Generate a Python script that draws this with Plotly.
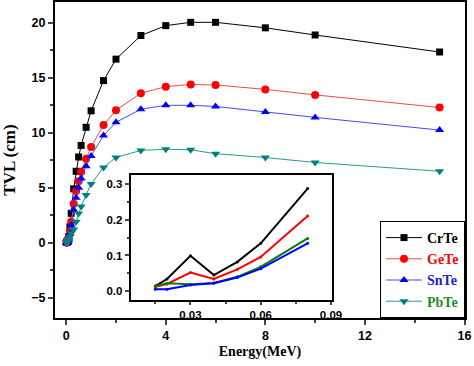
import plotly.graph_objects as go

energy = [0.015, 0.02, 0.03, 0.04, 0.05, 0.06, 0.08, 0.1, 0.15, 0.2, 0.3, 0.4, 0.5,
          0.6, 0.8, 1, 1.5, 2, 3, 4, 5, 6, 8, 10, 15]
crte = [0.014, 0.034, 0.099, 0.045, 0.082, 0.134, 0.288, 0.55, 1.45, 2.67, 4.9, 6.5, 7.8,
        8.85, 10.5, 12.0, 14.75, 16.7, 18.85, 19.75, 20.05, 20.05, 19.55, 18.9, 17.35]
gete = [0.012, 0.020, 0.052, 0.034, 0.061, 0.096, 0.211, 0.40, 1.05, 1.9, 3.55, 4.7, 5.6,
        6.45, 7.65, 8.7, 10.7, 12.05, 13.6, 14.2, 14.4, 14.35, 13.95, 13.45, 12.3]
snte = [0.005, 0.005, 0.017, 0.022, 0.038, 0.063, 0.134, 0.30, 0.85, 1.6, 3.0, 4.1, 5.0,
        5.85, 6.95, 7.9, 9.75, 10.95, 12.15, 12.5, 12.5, 12.4, 11.9, 11.4, 10.25]
pbte = [0.014, 0.022, 0.019, 0.023, 0.040, 0.068, 0.148, 0.25, 0.55, 0.85, 1.2, 1.9, 2.65,
        3.3, 4.35, 5.35, 6.85, 7.75, 8.4, 8.5, 8.45, 8.1, 7.75, 7.3, 6.5]
n_inset = 7

series = [
    ("CrTe", crte, "#000000", "#000000", "square", "#000000", "#000000"),
    ("GeTe", gete, "#ff0000", "#f04848", "circle", "#ff0000", "#ff0000"),
    ("SnTe", snte, "#0000ff", "#4848f0", "triangle-up", "#0000ff", "#1c1cd0"),
    ("PbTe", pbte, "#008080", "#2a9898", "triangle-down", "#008000", "#1e8c1e"),
]

fig = go.Figure()
for name, vals, mcol, lcol, sym, icol, tcol in series:
    fig.add_trace(go.Scatter(
        x=energy, y=vals, mode="lines+markers",
        name=f'<span style="color:{tcol}">{name}</span>',
        line=dict(color=lcol, width=1),
        marker=dict(symbol=sym, color=mcol, size=8 if sym != "square" else 7),
        xaxis="x", yaxis="y"))
# inset order: CrTe, GeTe, PbTe, SnTe (blue on top)
for name, vals, mcol, lcol, sym, icol, tcol in [series[0], series[1], series[3], series[2]]:
    fig.add_trace(go.Scatter(
        x=energy[:n_inset], y=vals[:n_inset], mode="lines+markers",
        line=dict(color=icol, width=2), marker=dict(color=icol, size=3),
        showlegend=False, xaxis="x2", yaxis="y2"))

tickfont = dict(family="Liberation Sans", size=12.5, color="black", weight="bold")
insetfont = dict(family="Liberation Sans", size=11.5, color="black", weight="bold")
xr = [-0.45, 16.02]
yr = [-6.85, 21.9]
ixr = [0.0045, 0.0903]
iyr = [-0.025, 0.326]

fig.update_layout(
    width=474, height=366,
    margin=dict(l=55, r=9, t=2, b=48, autoexpand=False),
    paper_bgcolor="white", plot_bgcolor="white",
    showlegend=True,
    legend=dict(x=1, y=0, xanchor="right", yanchor="bottom",
                bordercolor="black", borderwidth=1, bgcolor="white",
                font=dict(family="Liberation Serif", size=14, color="black", weight="bold"),
                tracegroupgap=0, itemwidth=36),
    xaxis=dict(range=xr, automargin=False, showgrid=False, zeroline=False, showline=True, linewidth=2,
               linecolor="black", mirror=True, ticks="outside", ticklen=5, tickwidth=1.5,
               tick0=0, dtick=4, tickfont=tickfont,
               minor=dict(dtick=2, ticks="outside", ticklen=3, tickwidth=1.5),
               title=dict(text="Energy(MeV)", standoff=4,
                          font=dict(family="Liberation Serif", size=14, color="black", weight="bold"))),
    yaxis=dict(range=yr, automargin=False, showgrid=False, zeroline=False, showline=True, linewidth=2,
               linecolor="black", mirror=True, ticks="outside", ticklen=5, tickwidth=1.5,
               tick0=0, dtick=5, tickfont=tickfont,
               minor=dict(dtick=2.5, ticks="outside", ticklen=3, tickwidth=1.5),
               title=dict(text="TVL (cm)", standoff=20,
                          font=dict(family="Liberation Serif", size=17, color="black", weight="bold"))),
    xaxis3=dict(range=xr, automargin=False, overlaying="x", anchor="y", side="top", showgrid=False,
                zeroline=False, showline=False, showticklabels=False, ticks="inside",
                ticklen=5, tickwidth=1.5, tick0=0, dtick=2),
    yaxis3=dict(range=yr, automargin=False, overlaying="y", anchor="x", side="right", showgrid=False,
                zeroline=False, showline=False, showticklabels=False, ticks="inside",
                ticklen=5, tickwidth=1.5, tick0=0, dtick=2.5),
    xaxis2=dict(domain=[0.1846, 0.675], automargin=False, anchor="y2", range=ixr, showgrid=False,
                zeroline=False, showline=True, linewidth=2, linecolor="black", mirror=True,
                ticks="outside", ticklen=3, tickwidth=1.5, tick0=0, dtick=0.03,
                tickformat=".2f", tickfont=insetfont,
                minor=dict(dtick=0.015, ticks="outside", ticklen=2, tickwidth=1.5)),
    yaxis2=dict(domain=[0.057, 0.4525], automargin=False, anchor="x2", range=iyr, showgrid=False,
                zeroline=False, showline=True, linewidth=2, linecolor="black", mirror=True,
                ticks="outside", ticklen=4, tickwidth=1.5, tick0=0, dtick=0.1,
                tickformat=".1f", tickfont=insetfont,
                minor=dict(dtick=0.05, ticks="outside", ticklen=2, tickwidth=1.5)),
    xaxis4=dict(range=ixr, automargin=False, overlaying="x2", anchor="y2", side="top", showgrid=False,
                zeroline=False, showline=False, showticklabels=False, ticks="inside",
                ticklen=4, tickwidth=1.5, tick0=0, dtick=0.015),
    yaxis4=dict(range=iyr, automargin=False, overlaying="y2", anchor="x2", side="right", showgrid=False,
                zeroline=False, showline=False, showticklabels=False, ticks="inside",
                ticklen=4, tickwidth=1.5, tick0=0, dtick=0.05),
)

fig.write_html("out.html", config={"displayModeBar": False},
               post_script="document.body.style.margin='0';document.body.style.padding='0';")
